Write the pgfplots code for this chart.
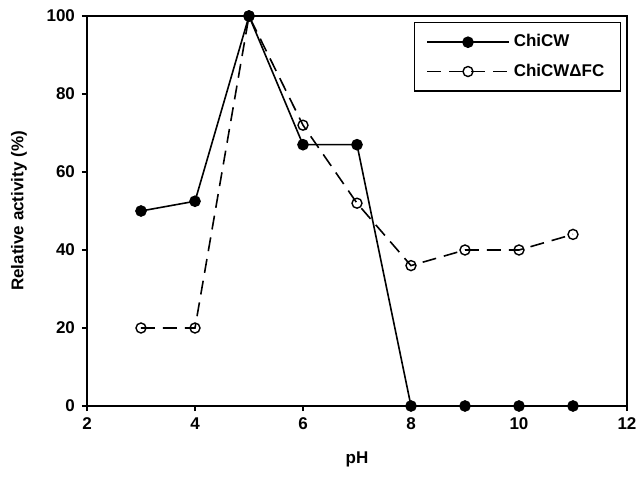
\documentclass[border=0pt]{standalone}
\usepackage{fontspec}
\setmainfont{Liberation Sans}
\usepackage{pgfplots}
\pgfplotsset{compat=1.18}

\begin{document}
\begin{tikzpicture}[font=\fontsize{8.5}{10}\selectfont\bfseries]
\begin{axis}[
  scale only axis,
  width=270pt, height=195pt,
  xmin=2, xmax=12, ymin=0, ymax=100,
  xtick={2,4,...,12}, ytick={0,20,...,100},
  tick align=outside,
  major tick length=2.5pt,
  tick style={black, line width=0.7pt},
  axis line style={line width=0.8pt},
  xtick pos=bottom, ytick pos=left,
  /pgf/number format/assume math mode=true,
  ticklabel style={font=\fontsize{8.5}{10}\selectfont\bfseries},
  xticklabel={\bfseries\pgfmathprintnumber{\tick}},
  yticklabel={\bfseries\pgfmathprintnumber{\tick}},
  xlabel={pH}, ylabel={Relative activity (\%)},
  xlabel style={yshift=-4pt},
  ylabel style={yshift=3pt},
  legend style={at={(rel axis cs:0.989,0.985)}, anchor=north east,
    draw=black, line width=0.7pt, inner xsep=6pt, inner ysep=4pt,
    row sep=3pt, font=\fontsize{8.5}{10}\selectfont\bfseries},
  legend cell align=left,
  legend image code/.code={%
    \draw[mark repeat=2,mark phase=2] plot coordinates {(0cm,0cm) (0.72cm,0cm) (1.44cm,0cm)};},
]
\addplot[black, line width=0.8pt, mark=*, mark size=2.5pt,
  mark options={solid, fill=black}] coordinates {
  (3,50) (4,52.5) (5,100) (6,67) (7,67) (8,0) (9,0) (10,0) (11,0)
};
\addlegendentry{ChiCW}
\addplot[black, line width=0.8pt, dash pattern=on 7pt off 4pt, mark=o, mark size=2.5pt,
  mark options={solid, fill=white, line width=0.7pt}] coordinates {
  (3,20) (4,20) (5,100) (6,72) (7,52) (8,36) (9,40) (10,40) (11,44)
};
\addlegendentry{ChiCWΔFC}
\coordinate (bl) at (rel axis cs:0,0);
\coordinate (tr) at (rel axis cs:1,1);
\end{axis}
\pgfresetboundingbox
\path ([shift={(-43.5pt,-35.5pt)}]bl) rectangle ([shift={(5.5pt,8pt)}]tr);
\end{tikzpicture}
\end{document}
